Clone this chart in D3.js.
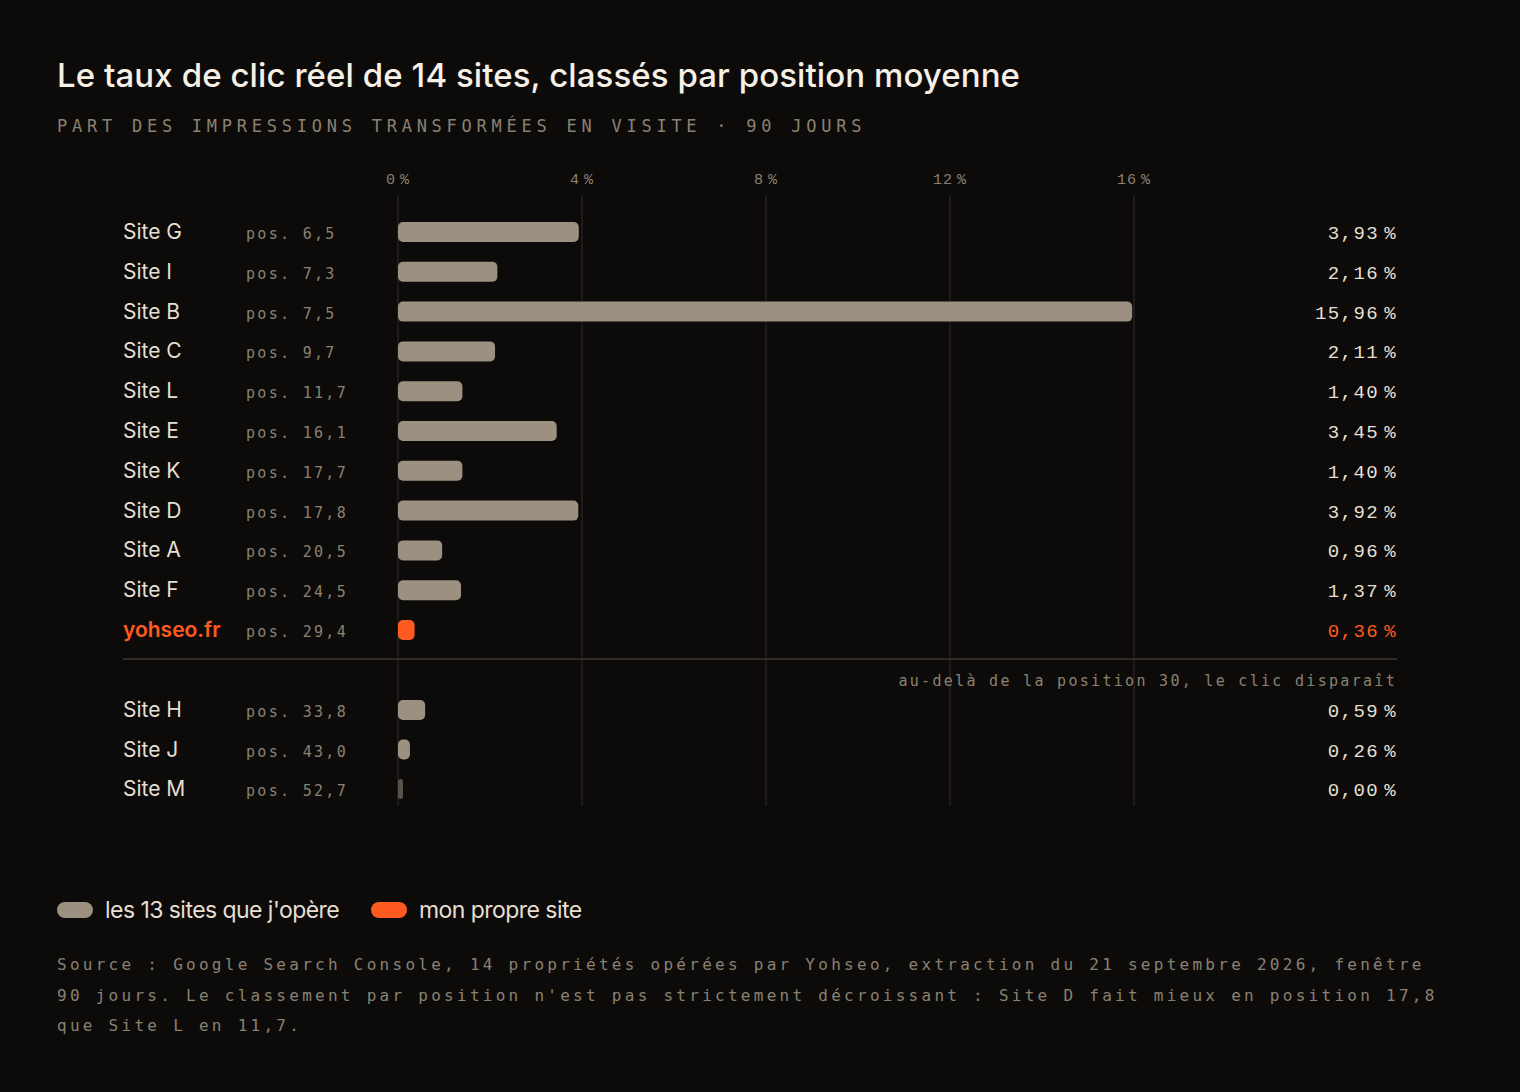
<!doctype html>
<html lang="fr">
<head>
<meta charset="utf-8">
<title>Taux de clic réel</title>
<script src="https://d3js.org/d3.v7.min.js"></script>
<style>
  html, body { margin: 0; padding: 0; background: #0d0b0a; }
  svg { display: block; }
</style>
</head>
<body>
<svg id="chart" width="1520" height="1092"></svg>
<script>
// data
var sites     = ["Site G", "Site I", "Site B", "Site C", "Site L", "Site E", "Site K", "Site D", "Site A", "Site F", "yohseo.fr", "Site H", "Site J", "Site M"];
var positions = ["6,5", "7,3", "7,5", "9,7", "11,7", "16,1", "17,7", "17,8", "20,5", "24,5", "29,4", "33,8", "43,0", "52,7"];
var ctr       = [3.93, 2.16, 15.96, 2.11, 1.40, 3.45, 1.40, 3.92, 0.96, 1.37, 0.36, 0.59, 0.26, 0.00];
var beyond30  = ["Site H", "Site J", "Site M"];
var ownSite   = "yohseo.fr";
var ticks     = [0, 4, 8, 12, 16];

var mono = "'DejaVu Sans Mono', 'Liberation Mono', monospace";
var mono2 = "'Liberation Mono', 'DejaVu Sans Mono', monospace";
var sans = "Inter, 'Noto Sans', sans-serif";
var muted = "#8a8171";
var light = "#e6dfd2";
var orange = "#ff5a1f";
var barCol = "#9c9080";

var svg = d3.select("#chart");

svg.append("rect").attr("width", 1520).attr("height", 1092).attr("fill", "#0d0b0a");

// title
svg.append("text")
  .attr("x", 57).attr("y", 87)
  .attr("fill", "#f6f0e6")
  .attr("font-family", sans).attr("font-size", 33).attr("font-weight", 500)
  .attr("letter-spacing", 0.08)
  .text("Le taux de clic réel de 14 sites, classés par position moyenne");

svg.append("text")
  .attr("x", 57).attr("y", 132)
  .attr("fill", muted)
  .attr("font-family", mono).attr("font-size", 17)
  .attr("letter-spacing", 4.75)
  .text("PART DES IMPRESSIONS TRANSFORMÉES EN VISITE · 90 JOURS");

// scales
var x = d3.scaleLinear().domain([0, 16]).range([398, 1134]);
var topSites = sites.filter(function(s) { return beyond30.indexOf(s) < 0; });
var yTop = d3.scalePoint().domain(topSites).range([232, 630]);
var yBot = d3.scalePoint().domain(beyond30).range([710, 789]);
function y(s) { return beyond30.indexOf(s) < 0 ? yTop(s) : yBot(s); }

// grid + ticks
var grid = svg.append("g");
grid.selectAll("line")
  .data(ticks)
  .join("line")
  .attr("x1", d => x(d)).attr("x2", d => x(d))
  .attr("y1", 195).attr("y2", 806)
  .attr("stroke", "#2b2825").attr("stroke-width", 1.2);

grid.selectAll("text")
  .data(ticks)
  .join("text")
  .attr("x", d => x(d)).attr("y", 184)
  .attr("text-anchor", "middle")
  .attr("fill", muted)
  .attr("font-family", mono2).attr("font-size", 15)
  .attr("letter-spacing", 1)
  .text(d => d + "\u2009%");

var rows = sites.map(function(s, i) { return {name: s, pos: positions[i], v: ctr[i]}; });

// bars
svg.append("g").selectAll("rect")
  .data(rows)
  .join("rect")
  .attr("x", x(0))
  .attr("y", d => y(d.name) - 10)
  .attr("width", d => Math.max(x(d.v) - x(0), 5))
  .attr("height", 20)
  .attr("rx", d => Math.min(5, Math.max(x(d.v) - x(0), 5) / 2))
  .attr("fill", d => d.name === ownSite ? orange : (d.v === 0 ? "#58524a" : barCol));

// labels
var lab = svg.append("g");
lab.selectAll("text.name")
  .data(rows)
  .join("text")
  .attr("class", "name")
  .attr("x", 123).attr("y", d => y(d.name) + 7)
  .attr("fill", d => d.name === ownSite ? orange : light)
  .attr("font-family", sans).attr("font-size", 21)
  .attr("font-weight", d => d.name === ownSite ? 600 : 400)
  .text(d => d.name);

lab.selectAll("text.pos")
  .data(rows)
  .join("text")
  .attr("class", "pos")
  .attr("x", 246).attr("y", d => y(d.name) + 7)
  .attr("fill", muted)
  .attr("font-family", mono).attr("font-size", 15)
  .attr("letter-spacing", 2.3)
  .text(d => "pos. " + d.pos);

lab.selectAll("text.val")
  .data(rows)
  .join("text")
  .attr("class", "val")
  .attr("x", 1397).attr("y", d => y(d.name) + 7)
  .attr("text-anchor", "end")
  .attr("fill", d => d.name === ownSite ? orange : light)
  .attr("font-family", mono2).attr("font-size", 19)
  .attr("font-weight", 500)
  .attr("letter-spacing", 1.4)
  .text(d => d3.format(".2f")(d.v).replace(".", ",") + "\u2009%");

// separator at position 30
svg.append("line")
  .attr("x1", 123).attr("x2", 1397)
  .attr("y1", 659).attr("y2", 659)
  .attr("stroke", "#3b3733").attr("stroke-width", 1.5);

svg.append("text")
  .attr("x", 1397).attr("y", 686)
  .attr("text-anchor", "end")
  .attr("fill", muted)
  .attr("font-family", mono).attr("font-size", 15)
  .attr("letter-spacing", 2.3)
  .text("au-delà de la position 30, le clic disparaît");

// legend
var legend = [
  {label: "les 13 sites que j'opère", color: barCol, x: 57},
  {label: "mon propre site", color: orange, x: 371}
];
var lg = svg.append("g");
lg.selectAll("rect")
  .data(legend)
  .join("rect")
  .attr("x", d => d.x).attr("y", 902)
  .attr("width", 36).attr("height", 16).attr("rx", 8)
  .attr("fill", d => d.color);
lg.selectAll("text")
  .data(legend)
  .join("text")
  .attr("x", d => d.x + 48).attr("y", 918)
  .attr("fill", light)
  .attr("font-family", sans).attr("font-size", 23)
  .attr("letter-spacing", -0.55)
  .text(d => d.label);

// source note
var note = [
  "Source : Google Search Console, 14 propriétés opérées par Yohseo, extraction du 21 septembre 2026, fenêtre",
  "90 jours. Le classement par position n'est pas strictement décroissant : Site D fait mieux en position 17,8",
  "que Site L en 11,7."
];
svg.append("g").selectAll("text")
  .data(note)
  .join("text")
  .attr("x", 57).attr("y", (d, i) => 970 + i * 30.5)
  .attr("fill", muted)
  .attr("font-family", mono).attr("font-size", 16)
  .attr("letter-spacing", 3.27)
  .text(d => d);
</script>
</body>
</html>
